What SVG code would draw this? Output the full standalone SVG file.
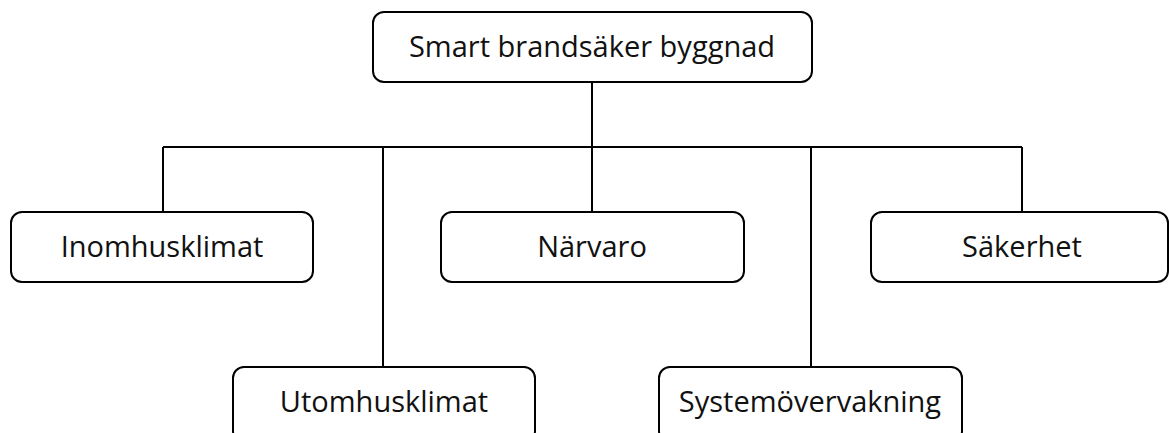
<svg xmlns="http://www.w3.org/2000/svg" width="1169" height="433" viewBox="0 0 1169 433">
<style>
.box{fill:#fff;stroke:#000;stroke-width:2}
.lbl{font-family:"Open Sans","Liberation Sans",sans-serif;font-size:29px;fill:#111;text-anchor:middle}
.con{fill:none;stroke:#000;stroke-width:2}
</style>
<rect width="1169" height="433" fill="#fff"/>
<g id="connectors">
<path class="con" d="M592 82V147"/>
<path class="con" d="M163 147H1022"/>
<path class="con" d="M163 147V212"/>
<path class="con" d="M383 147V367"/>
<path class="con" d="M592 147V212"/>
<path class="con" d="M811 147V367"/>
<path class="con" d="M1022 147V212"/>
</g>
<g id="root">
<rect class="box" x="373" y="12" width="439" height="70" rx="11"/>
<text class="lbl" x="592" y="57">Smart brandsäker byggnad</text>
</g>
<g id="inomhus">
<rect class="box" x="11" y="212" width="302" height="70" rx="11"/>
<text class="lbl" x="162" y="257">Inomhusklimat</text>
</g>
<g id="narvaro">
<rect class="box" x="441" y="212" width="303" height="70" rx="11"/>
<text class="lbl" x="592" y="257">Närvaro</text>
</g>
<g id="sakerhet">
<rect class="box" x="871" y="212" width="297" height="70" rx="11"/>
<text class="lbl" x="1022" y="257">Säkerhet</text>
</g>
<g id="utomhus">
<rect class="box" x="233" y="367" width="302" height="75" rx="11"/>
<text class="lbl" x="384" y="412">Utomhusklimat</text>
</g>
<g id="system">
<rect class="box" x="659" y="367" width="303" height="75" rx="11"/>
<text class="lbl" x="810" y="412">Systemövervakning</text>
</g>
</svg>
